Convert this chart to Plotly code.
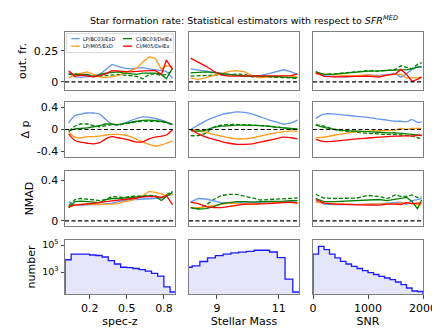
import numpy as np
import plotly.graph_objects as go
from plotly.subplots import make_subplots

# ---------------- data ----------------
series_names = ["LP/BC03/ExD", "LP/M05/ExD", "CI/BC03/DelEx", "CI/M05/DelEx"]
series_colors = ["#6495ED", "#FF9A1A", "#008000", "#FF0000"]

specz_x = [0.03, 0.08, 0.13, 0.18, 0.23, 0.28, 0.33, 0.38, 0.43, 0.48, 0.53, 0.58, 0.63, 0.68, 0.73, 0.78, 0.82, 0.87]
mass_x = [8.15, 8.4, 8.65, 8.9, 9.15, 9.4, 9.65, 9.9, 10.15, 10.4, 10.65, 10.9, 11.15, 11.4, 11.6]
snr_x = [50, 200, 400, 600, 800, 1000, 1200, 1350, 1500, 1600, 1700, 1800, 1900, 1975]

# outlier fraction
outfr_z_lpbc03 = [0.07, 0.04, 0.038, 0.04, 0.045, 0.06, 0.10, 0.14, 0.125, 0.11, 0.105, 0.11, 0.115, 0.105, 0.10, 0.09, 0.085, 0.03]
outfr_z_lpm05 = [0.03, 0.06, 0.07, 0.08, 0.06, 0.04, 0.035, 0.04, 0.05, 0.07, 0.09, 0.11, 0.16, 0.20, 0.19, 0.10, 0.13, 0.12]
outfr_z_cibc03 = [0.06, 0.06, 0.065, 0.06, 0.04, 0.06, 0.07, 0.075, 0.08, 0.07, 0.065, 0.06, 0.07, 0.07, 0.07, 0.06, 0.025, 0.11]
outfr_z_cibc03_alt = [0.07, 0.065, 0.06, 0.055, 0.05, 0.045, 0.05, 0.055, 0.06, 0.055, 0.05, 0.045, 0.025, 0.06, 0.065, 0.05, 0.06, 0.09]
outfr_z_cim05 = [0.09, 0.045, 0.055, 0.05, 0.04, 0.05, 0.065, 0.09, 0.085, 0.08, 0.08, 0.085, 0.09, 0.09, 0.092, 0.06, 0.175, 0.10]

outfr_m_lpbc03 = [0.105, 0.095, 0.088, 0.078, 0.065, 0.055, 0.05, 0.046, 0.046, 0.05, 0.065, 0.08, 0.097, 0.08, 0.06]
outfr_m_lpm05 = [0.03, 0.02, 0.035, 0.05, 0.07, 0.085, 0.09, 0.08, 0.046, 0.032, 0.04, 0.046, 0.046, 0.046, 0.04]
outfr_m_cibc03 = [0.073, 0.078, 0.08, 0.075, 0.068, 0.055, 0.05, 0.046, 0.046, 0.046, 0.045, 0.042, 0.038, 0.035, 0.032]
outfr_m_cibc03_alt = [0.046, 0.05, 0.055, 0.058, 0.058, 0.058, 0.063, 0.06, 0.04, 0.04, 0.04, 0.038, 0.035, 0.032, 0.027]
outfr_m_cim05 = [0.19, 0.16, 0.125, 0.085, 0.055, 0.046, 0.046, 0.046, 0.046, 0.046, 0.046, 0.046, 0.046, 0.05, 0.065]

outfr_s_lpbc03 = [0.085, 0.05, 0.043, 0.04, 0.046, 0.056, 0.052, 0.06, 0.065, 0.038, 0.065, 0.10, 0.12, 0.12]
outfr_s_lpm05 = [0.065, 0.06, 0.056, 0.052, 0.05, 0.056, 0.045, 0.056, 0.06, 0.06, 0.032, 0.035, 0.035, 0.035]
outfr_s_cibc03 = [0.08, 0.06, 0.062, 0.07, 0.08, 0.086, 0.088, 0.09, 0.095, 0.095, 0.098, 0.105, 0.118, 0.12]
outfr_s_cibc03_alt = [0.075, 0.06, 0.065, 0.075, 0.085, 0.09, 0.086, 0.09, 0.10, 0.13, 0.12, 0.105, 0.14, 0.155]
outfr_s_cim05 = [0.075, 0.045, 0.04, 0.042, 0.046, 0.046, 0.038, 0.055, 0.065, 0.10, 0.06, 0.005, 0.02, 0.04]

# delta p (bias)
dp_z_lpbc03 = [0.12, 0.25, 0.28, 0.30, 0.30, 0.28, 0.18, 0.10, 0.09, 0.11, 0.16, 0.20, 0.23, 0.22, 0.20, 0.17, 0.14, 0.09]
dp_z_lpm05 = [-0.04, -0.14, -0.15, -0.13, -0.13, -0.12, -0.10, -0.09, -0.09, -0.10, -0.13, -0.18, -0.23, -0.27, -0.30, -0.28, -0.25, -0.21]
dp_z_cibc03 = [-0.03, 0.01, 0.02, 0.03, 0.05, 0.07, 0.10, 0.10, 0.09, 0.11, 0.13, 0.15, 0.165, 0.17, 0.16, 0.15, 0.13, 0.09]
dp_z_cibc03_alt = [-0.03, 0.06, 0.10, 0.10, 0.07, 0.05, 0.07, 0.09, 0.08, 0.10, 0.12, 0.14, 0.15, 0.15, 0.15, 0.14, 0.12, 0.08]
dp_z_cim05 = [-0.08, -0.20, -0.23, -0.25, -0.26, -0.24, -0.17, -0.13, -0.15, -0.17, -0.20, -0.23, -0.22, -0.17, -0.14, -0.12, -0.10, 0.0]

dp_m_lpbc03 = [0.0, 0.08, 0.16, 0.22, 0.27, 0.30, 0.32, 0.31, 0.28, 0.23, 0.18, 0.14, 0.10, 0.12, 0.17]
dp_m_lpm05 = [0.0, -0.02, -0.05, -0.09, -0.12, -0.15, -0.17, -0.17, -0.15, -0.12, -0.09, -0.06, -0.04, -0.03, -0.03]
dp_m_cibc03 = [-0.02, -0.03, -0.01, 0.04, 0.06, 0.07, 0.08, 0.08, 0.075, 0.07, 0.06, 0.045, 0.03, 0.02, 0.01]
dp_m_cibc03_alt = [-0.11, -0.11, -0.06, 0.04, 0.08, 0.09, 0.09, 0.085, 0.08, 0.07, 0.06, 0.045, 0.03, 0.01, 0.0]
dp_m_cim05 = [0.0, -0.08, -0.14, -0.18, -0.22, -0.25, -0.27, -0.27, -0.26, -0.23, -0.20, -0.17, -0.14, -0.15, -0.17]

dp_s_lpbc03 = [0.20, 0.28, 0.28, 0.26, 0.24, 0.22, 0.19, 0.17, 0.15, 0.15, 0.14, 0.18, 0.13, 0.14]
dp_s_lpm05 = [-0.15, -0.14, -0.10, -0.07, -0.04, -0.03, -0.02, -0.02, -0.01, 0.02, 0.0, 0.02, 0.02, 0.02]
dp_s_cibc03 = [0.08, 0.04, 0.0, -0.02, -0.03, -0.04, -0.05, -0.06, -0.06, -0.07, -0.08, -0.09, -0.10, -0.11]
dp_s_cibc03_alt = [0.09, 0.06, 0.0, -0.03, -0.05, -0.07, -0.08, -0.09, -0.09, -0.10, -0.11, -0.12, -0.15, -0.17]
dp_s_cim05 = [-0.18, -0.22, -0.21, -0.19, -0.17, -0.155, -0.14, -0.13, -0.12, -0.12, -0.115, -0.12, -0.11, -0.10]

# NMAD
nmad_z_lpbc03 = [0.19, 0.16, 0.155, 0.16, 0.16, 0.16, 0.165, 0.175, 0.19, 0.20, 0.21, 0.21, 0.215, 0.215, 0.22, 0.225, 0.245, 0.26]
nmad_z_lpm05 = [0.13, 0.16, 0.165, 0.17, 0.16, 0.16, 0.16, 0.165, 0.17, 0.19, 0.20, 0.22, 0.25, 0.29, 0.28, 0.26, 0.25, 0.26]
nmad_z_cibc03 = [0.13, 0.19, 0.195, 0.19, 0.18, 0.18, 0.21, 0.22, 0.22, 0.225, 0.23, 0.235, 0.24, 0.245, 0.24, 0.20, 0.24, 0.28]
nmad_z_cibc03_alt = [0.15, 0.21, 0.22, 0.215, 0.205, 0.20, 0.21, 0.24, 0.235, 0.23, 0.24, 0.24, 0.245, 0.25, 0.245, 0.23, 0.26, 0.29]
nmad_z_cim05 = [0.14, 0.155, 0.16, 0.165, 0.17, 0.18, 0.19, 0.20, 0.205, 0.21, 0.215, 0.225, 0.235, 0.24, 0.24, 0.23, 0.25, 0.16]

nmad_m_lpbc03 = [0.185, 0.22, 0.215, 0.20, 0.18, 0.175, 0.175, 0.185, 0.185, 0.18, 0.185, 0.185, 0.19, 0.19, 0.185]
nmad_m_lpm05 = [0.13, 0.13, 0.14, 0.15, 0.165, 0.175, 0.17, 0.165, 0.165, 0.17, 0.175, 0.18, 0.185, 0.18, 0.175]
nmad_m_cibc03 = [0.13, 0.115, 0.12, 0.14, 0.17, 0.18, 0.19, 0.19, 0.185, 0.19, 0.19, 0.19, 0.195, 0.20, 0.20]
nmad_m_cibc03_alt = [0.13, 0.12, 0.155, 0.21, 0.25, 0.26, 0.26, 0.245, 0.225, 0.205, 0.21, 0.215, 0.22, 0.22, 0.225]
nmad_m_cim05 = [0.185, 0.17, 0.14, 0.13, 0.13, 0.14, 0.155, 0.165, 0.165, 0.165, 0.17, 0.175, 0.18, 0.185, 0.175]

nmad_s_lpbc03 = [0.20, 0.165, 0.16, 0.16, 0.16, 0.165, 0.17, 0.175, 0.18, 0.185, 0.16, 0.20, 0.21, 0.22]
nmad_s_lpm05 = [0.185, 0.175, 0.17, 0.165, 0.16, 0.165, 0.165, 0.165, 0.17, 0.175, 0.18, 0.17, 0.16, 0.155]
nmad_s_cibc03 = [0.22, 0.19, 0.19, 0.195, 0.20, 0.21, 0.21, 0.20, 0.21, 0.22, 0.23, 0.19, 0.12, 0.205]
nmad_s_cibc03_alt = [0.26, 0.225, 0.22, 0.22, 0.225, 0.25, 0.24, 0.22, 0.255, 0.24, 0.24, 0.255, 0.23, 0.235]
nmad_s_cim05 = [0.21, 0.175, 0.165, 0.16, 0.16, 0.155, 0.155, 0.165, 0.165, 0.16, 0.18, 0.17, 0.175, 0.175]

# histograms (counts per bin)
hist_z_start, hist_z_width = 0.0, 0.05
hist_z_counts = [8100, 21400, 21400, 21400, 18200, 16600, 12900, 6900, 3900, 2240, 2140, 1820, 1480, 1170, 780, 500, 78, 33]
hist_m_start, hist_m_width = 7.95, 0.25
hist_m_counts = [2240, 2800, 6000, 11000, 16200, 21400, 25700, 30000, 34000, 40700, 40700, 30200, 11700, 300, 33]
hist_s_start, hist_s_width = 0, 100
hist_s_counts = [21400, 79400, 44700, 21400, 11000, 6200, 3900, 2600, 1820, 1260, 910, 650, 480, 360, 275, 182, 115, 65, 39, 36]
hist_floor = 1

# axis labels / ticks
row_titles = ["out. fr.", "\u0394 p", "NMAD", "number"]
col_titles = ["spec-z", "Stellar Mass", "SNR"]
x_ranges = [[0.0, 0.89], [8.1, 11.65], [0, 2000]]
x_tickvals = [[0.2, 0.5, 0.8], [9, 11], [0, 1000, 2000]]
x_ticktext = [["0.2", "0.5", "0.8"], ["9", "11"], ["0", "1000", "2000"]]
y_ranges = [[-0.065, 0.40], [-0.5, 0.5], [-0.05, 0.49], [1.37, 5.37]]
y_tickvals = [[0, 0.25], [-0.4, 0, 0.4], [0, 0.4], [1e3, 1e5]]
y_ticktext = [["0", "0.25"], ["-0.4", "0", "0.4"], ["0", "0.4"], ["10<sup>3</sup>", "10<sup>5</sup>"]]

# ---------------- figure ----------------
fig = make_subplots(rows=4, cols=3)

W, H = 440, 330
ML, MR, MT, MB = 57, 25, 24, 44
pw, ph = W - ML - MR, H - MT - MB
col_px = [(57, 167), (181, 291), (305, 415)]
row_px = [(24, 82), (94, 149), (163, 218), (232, 286)]

def axname(r, c, kind):
    idx = (r - 1) * 3 + c
    return kind + ("axis" if idx == 1 else "axis%d" % idx)

def ref(r, c, kind):
    idx = (r - 1) * 3 + c
    return kind + ("" if idx == 1 else str(idx))

x_sets = [specz_x, mass_x, snr_x]
panels = {
    (1, 1): [outfr_z_lpbc03, outfr_z_lpm05, outfr_z_cibc03, outfr_z_cim05, outfr_z_cibc03_alt],
    (1, 2): [outfr_m_lpbc03, outfr_m_lpm05, outfr_m_cibc03, outfr_m_cim05, outfr_m_cibc03_alt],
    (1, 3): [outfr_s_lpbc03, outfr_s_lpm05, outfr_s_cibc03, outfr_s_cim05, outfr_s_cibc03_alt],
    (2, 1): [dp_z_lpbc03, dp_z_lpm05, dp_z_cibc03, dp_z_cim05, dp_z_cibc03_alt],
    (2, 2): [dp_m_lpbc03, dp_m_lpm05, dp_m_cibc03, dp_m_cim05, dp_m_cibc03_alt],
    (2, 3): [dp_s_lpbc03, dp_s_lpm05, dp_s_cibc03, dp_s_cim05, dp_s_cibc03_alt],
    (3, 1): [nmad_z_lpbc03, nmad_z_lpm05, nmad_z_cibc03, nmad_z_cim05, nmad_z_cibc03_alt],
    (3, 2): [nmad_m_lpbc03, nmad_m_lpm05, nmad_m_cibc03, nmad_m_cim05, nmad_m_cibc03_alt],
    (3, 3): [nmad_s_lpbc03, nmad_s_lpm05, nmad_s_cibc03, nmad_s_cim05, nmad_s_cibc03_alt],
}

for (r, c), ys in panels.items():
    xs = x_sets[c - 1]
    shape = "spline" if r == 2 else "linear"
    fig.add_trace(go.Scatter(x=xs, y=ys[4], mode="lines", showlegend=False,
                             line=dict(color=series_colors[2], width=1.3, dash="4px,2px", shape=shape)),
                  row=r, col=c)
    for k in range(4):
        fig.add_trace(go.Scatter(x=xs, y=ys[k], mode="lines", name=series_names[k], showlegend=False,
                                 line=dict(color=series_colors[k], width=1.3, shape=shape)),
                      row=r, col=c)
    fig.add_shape(type="line", xref=ref(r, c, "x") + " domain", yref=ref(r, c, "y"),
                  x0=0, x1=1, y0=0, y1=0, line=dict(color="black", width=1.2, dash="4px,2.5px"))

def step_xy(start, width, counts, base):
    edges = start + width * np.arange(len(counts) + 1)
    xs = [edges[0]] + list(edges[:-1]) + [edges[-1], edges[-1]]
    ys = [base] + list(counts) + [counts[-1], base]
    return xs, ys

hists = [(hist_z_start, hist_z_width, hist_z_counts),
         (hist_m_start, hist_m_width, hist_m_counts),
         (hist_s_start, hist_s_width, hist_s_counts)]
for c, (st, wd, cnt) in enumerate(hists, start=1):
    hx, hy = step_xy(st, wd, cnt, hist_floor)
    fig.add_trace(go.Scatter(x=hx, y=hy, mode="lines", fill="toself", fillcolor="#e6e6fb",
                             line=dict(color="#1a1aff", width=1.3, shape="hv"), showlegend=False),
                  row=4, col=c)

font_fam = "DejaVu Sans"
for r in range(1, 5):
    for c in range(1, 4):
        xa, ya = axname(r, c, "x"), axname(r, c, "y")
        x0p, x1p = col_px[c - 1]
        y0p, y1p = row_px[r - 1]
        xdom = [(x0p - ML) / pw, (x1p - ML) / pw]
        ydom = [(H - MB - y1p) / ph, (H - MB - y0p) / ph]
        xd = dict(domain=xdom, range=x_ranges[c - 1], showline=True, mirror=True, linecolor="#7f7f7f",
                  linewidth=1, showgrid=False, zeroline=False,
                  tickfont=dict(size=11, color="black", family=font_fam))
        if r == 4:
            xd.update(tickvals=x_tickvals[c - 1], ticktext=x_ticktext[c - 1], ticks="outside", ticklen=3.5,
                      tickcolor="#444", showticklabels=True,
                      title=dict(text=col_titles[c - 1], font=dict(size=11, color="black", family=font_fam),
                                 standoff=2))
        else:
            xd.update(showticklabels=False, ticks="")
        yd = dict(domain=ydom, showline=True, mirror=True, linecolor="#7f7f7f", linewidth=1,
                  showgrid=False, zeroline=False, tickfont=dict(size=11, color="black", family=font_fam))
        if r == 4:
            yd.update(type="log", range=y_ranges[3])
        else:
            yd.update(range=y_ranges[r - 1])
        if c == 1:
            yd.update(tickvals=y_tickvals[r - 1], ticktext=y_ticktext[r - 1], ticks="outside", ticklen=3.5,
                      tickcolor="#444", showticklabels=True,
                      title=dict(text=row_titles[r - 1], font=dict(size=11, color="black", family=font_fam),
                                 standoff=4))
            if r == 4:
                yd["tickfont"] = dict(size=9.5, color="black", family=font_fam)
        else:
            yd.update(showticklabels=False, ticks="")
        fig.layout[xa].update(xd)
        fig.layout[ya].update(yd)

# legend (drawn inside first panel)
leg_rows = [0.886, 0.755]
leg_cols = [(0.057, 0.133, 0.143), (0.527, 0.609, 0.627)]
fig.add_shape(type="rect", xref="x domain", yref="y domain", x0=0.012, x1=0.985, y0=0.645, y1=0.968,
              line=dict(color="#cccccc", width=0.8), fillcolor="rgba(255,255,255,0.85)", layer="above")
order = [(0, 0), (1, 0), (2, 1), (3, 1)]  # (series index, legend column)
for k, col in order:
    row_i = k % 2
    lx0, lx1, tx = leg_cols[col]
    yy = leg_rows[row_i]
    fig.add_shape(type="line", xref="x domain", yref="y domain", x0=lx0, x1=lx1, y0=yy, y1=yy,
                  line=dict(color=series_colors[k], width=1.3), layer="above")
    fig.add_annotation(xref="x domain", yref="y domain", x=tx, y=yy, text=series_names[k],
                       showarrow=False, xanchor="left", yanchor="middle",
                       font=dict(size=5, color="black", family=font_fam))

fig.update_layout(
    width=W, height=H,
    margin=dict(l=ML, r=MR, t=MT, b=MB),
    paper_bgcolor="white", plot_bgcolor="white",
    font=dict(family=font_fam, color="black"),
    showlegend=False,
    title=dict(text="Star formation rate: Statistical estimators with respect to <i>SFR<sup>MED</sup></i>",
               x=0.5, xref="paper", xanchor="center", y=1 - 13 / H, yanchor="middle",
               font=dict(size=9.5, color="black", family=font_fam)),
)

fig.write_html("out.html")
